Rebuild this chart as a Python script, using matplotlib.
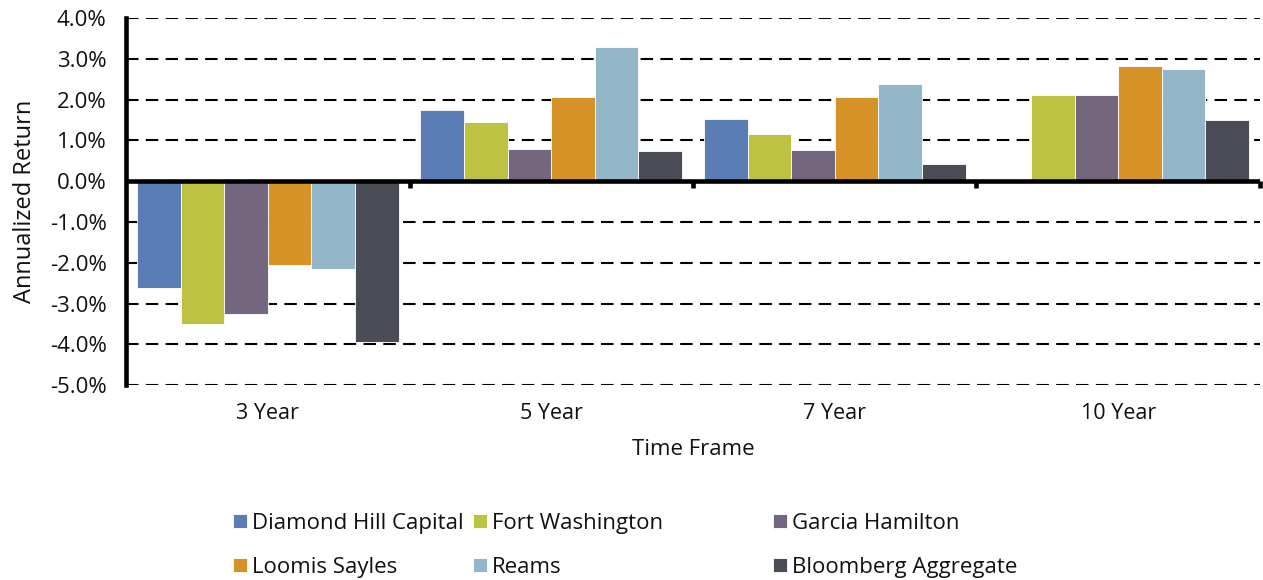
import numpy as np
import matplotlib
matplotlib.use("Agg")
import matplotlib.pyplot as plt
from matplotlib.ticker import FuncFormatter, MultipleLocator

categories = ["3 Year", "5 Year", "7 Year", "10 Year"]
diamond_hill = [-2.63, 1.75, 1.53, np.nan]
fort_washington = [-3.49, 1.44, 1.16, 2.10]
garcia_hamilton = [-3.25, 0.78, 0.76, 2.10]
loomis_sayles = [-2.05, 2.06, 2.06, 2.83]
reams = [-2.16, 3.29, 2.39, 2.76]
bloomberg_agg = [-3.94, 0.73, 0.41, 1.49]

series_names = ["Diamond Hill Capital", "Fort Washington", "Garcia Hamilton",
                "Loomis Sayles", "Reams", "Bloomberg Aggregate"]
series_values = [diamond_hill, fort_washington, garcia_hamilton,
                 loomis_sayles, reams, bloomberg_agg]
colors = ["#5B7DB5", "#BDC242", "#73667E", "#D69127", "#94B6C9", "#4A4D55"]

plt.rcParams['font.family'] = ['Open Sans', 'DejaVu Sans']
txt = "#111111"

fig = plt.figure(figsize=(12.63, 5.8), dpi=100)
ax = fig.add_axes([0.0998, 0.336, 0.8978, 0.633])

x = np.arange(len(categories))
n = len(series_names)
bw = 0.923 / n
for i, (name, vals, c) in enumerate(zip(series_names, series_values, colors)):
    ax.bar(x + (i - (n - 1) / 2) * bw, vals, width=bw, color=c,
           edgecolor="white", linewidth=0.6, label=name, zorder=2)

ax.set_xlim(-0.5, len(categories) - 0.5)
ax.set_ylim(-5, 4)
ax.yaxis.set_major_locator(MultipleLocator(1))
ax.yaxis.set_major_formatter(FuncFormatter(lambda v, p: f"{v:.1f}%"))
ax.grid(axis="y", color="black", linestyle=(0, (6, 3.5)), linewidth=1.5, zorder=0)
ax.set_axisbelow(True)

for s in ["top", "right", "bottom"]:
    ax.spines[s].set_visible(False)
ax.spines["left"].set_linewidth(3.3)
ax.tick_params(axis="y", length=0, labelsize=16, pad=14, colors=txt)
ax.set_xticks(x)
ax.set_xticklabels(categories)
ax.tick_params(axis="x", length=0, labelsize=15.5, pad=13, colors=txt)

# zero axis line with group boundary ticks
ax.axhline(0, color="black", linewidth=3.3, zorder=3)
sec = ax.secondary_xaxis(5 / 9)
for s in sec.spines.values():
    s.set_visible(False)
sec.set_xticks(np.arange(len(categories)) + 0.5)
sec.set_xticklabels([])
sec.tick_params(axis="x", top=False, bottom=True, labeltop=False, labelbottom=False,
                direction="out", length=5, width=3.3, color="black")

ax.set_xlabel("Time Frame", fontsize=16, labelpad=11, color=txt)
ax.set_ylabel("Annualized Return", fontsize=17, labelpad=9, color=txt)

handles, labels = ax.get_legend_handles_labels()
col_x = [0.1845, 0.3745, 0.612]
for j, cx in enumerate(col_x):
    idx = [j, j + 3]
    fig.legend([handles[k] for k in idx], [labels[k] for k in idx],
               loc="upper left", bbox_to_anchor=(cx, 0.116), borderaxespad=0,
               borderpad=0, frameon=False, fontsize=16, handlelength=0.62,
               handleheight=0.62, handletextpad=0.25, labelspacing=1.05,
               labelcolor=txt)

fig.savefig("out.png", dpi=100)
